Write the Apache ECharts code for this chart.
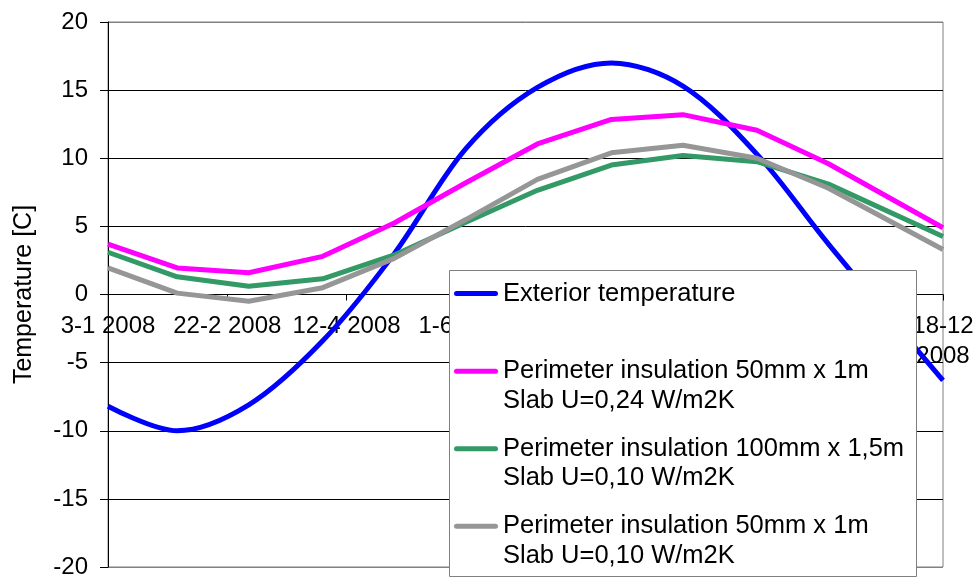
<!DOCTYPE html>
<html>
<head>
<meta charset="utf-8">
<script src="https://cdn.jsdelivr.net/npm/echarts@6/dist/echarts.min.js"></script>
<style>
html,body{margin:0;padding:0;background:#fff;}
#chart{width:975px;height:578px;}
</style>
</head>
<body>
<div id="chart"></div>
<script>
// Days since 3-1 2008
const days = [0, 29, 59, 90, 120, 150, 180, 211, 241, 272, 302, 350];
const exteriorTemp = [-8.2, -10.0, -8.1, -3.4, 3.0, 10.7, 15.2, 17.0, 15.3, 10.3, 3.7, -6.3];
const perim50Slab024 = [3.7, 1.95, 1.6, 2.8, 5.25, 8.2, 11.05, 12.85, 13.2, 12.05, 9.6, 4.9];
const perim100Slab010 = [3.1, 1.3, 0.6, 1.15, 2.9, 5.3, 7.65, 9.5, 10.2, 9.75, 8.1, 4.25];
const perim50Slab010 = [1.95, 0.1, -0.5, 0.5, 2.65, 5.5, 8.45, 10.4, 10.95, 10.0, 7.8, 3.3];
const xTickLabels = ['3-1 2008', '22-2 2008', '12-4 2008', '1-6 2008', '21-7 2008', '9-9 2008', '29-10 2008', '18-12\n2008'];
const seriesNames = [
  'Exterior temperature',
  'Perimeter insulation 50mm x 1m\nSlab U=0,24 W/m2K',
  'Perimeter insulation 100mm x 1,5m\nSlab U=0,10 W/m2K',
  'Perimeter insulation 50mm x 1m\nSlab U=0,10 W/m2K'
];
const seriesColors = ['#0000FF', '#FF00FF', '#339966', '#969696'];

const FONT = '"Liberation Sans", Arial, sans-serif';
const pair = arr => days.map((d, i) => [d, arr[i]]);
const allData = [exteriorTemp, perim50Slab024, perim100Slab010, perim50Slab010];
const capsule = 'path://M2.5,0 H41.5 A2.5,2.5 0 0 1 41.5,5 H2.5 A2.5,2.5 0 0 1 2.5,0 Z';

const GRID_TOP = 22, GRID_BOTTOM = 11, H = 578;
const Y_MIN = -20, Y_MAX = 20;
// distance from the grid bottom to the zero line, so the x axis sits on y = 0
const plotH = H - GRID_TOP - GRID_BOTTOM;
const zeroOffset = -plotH * (0 - Y_MIN) / (Y_MAX - Y_MIN);

const chart = echarts.init(document.getElementById('chart'));
chart.setOption({
  animation: false,
  backgroundColor: '#fff',
  grid: { left: 108, right: 32, top: GRID_TOP, bottom: GRID_BOTTOM, outerBoundsMode: 'none', containLabel: false,
          show: true, borderColor: '#808080', borderWidth: 1, backgroundColor: 'transparent' },
  xAxis: {
    type: 'value', min: 0, max: 350, interval: 50,
    offset: zeroOffset,
    axisLine: { onZero: false, lineStyle: { color: '#000', width: 1 } },
    axisTick: { show: true, length: 6, lineStyle: { color: '#000' } },
    splitLine: { show: false },
    axisLabel: {
      margin: 17, fontSize: 24, lineHeight: 30, color: '#000', fontFamily: FONT,
      showMinLabel: true, showMaxLabel: true, hideOverlap: false,
      formatter: v => xTickLabels[Math.round(v / 50)] || ''
    }
  },
  yAxis: {
    type: 'value', min: Y_MIN, max: Y_MAX, interval: 5,
    name: 'Temperature [C]', nameLocation: 'middle', nameGap: 71,
    nameTextStyle: { fontSize: 25, color: '#000', fontFamily: FONT },
    axisLine: { show: true, onZero: false, lineStyle: { color: '#000', width: 1 } },
    axisTick: { show: true, length: 8, lineStyle: { color: '#000' } },
    splitLine: { show: true, lineStyle: { color: ['#808080', '#000', '#000', '#000', '#000', '#000', '#000', '#000', '#808080'], width: 1 } },
    axisLabel: { margin: 20, fontSize: 24, color: '#000', fontFamily: FONT }
  },
  legend: {
    orient: 'vertical', left: 454, top: 249, padding: 0,
    itemWidth: 44, itemHeight: 5, itemGap: -11.5,
    data: seriesNames.map(n => ({ name: n, icon: capsule })),
    textStyle: { fontSize: 25.5, lineHeight: 29.7, color: '#000', fontFamily: FONT },
    formatter: name => name.indexOf('\n') >= 0 ? '\n' + name : '\n' + name + '\n'
  },
  graphic: [{
    type: 'rect', z: 3,
    shape: { x: 449.5, y: 270.5, width: 467, height: 306 },
    style: { fill: '#fff', stroke: '#808080', lineWidth: 1 }
  }],
  series: allData.map((arr, i) => ({
    name: seriesNames[i],
    type: 'line',
    data: pair(arr),
    smooth: i === 0 ? 0.33 : false,
    symbol: 'none',
    showSymbol: false,
    clip: true,
    lineStyle: { color: seriesColors[i], width: 5 },
    itemStyle: { color: seriesColors[i] },
    z: 2
  }))
});
</script>
</body>
</html>
